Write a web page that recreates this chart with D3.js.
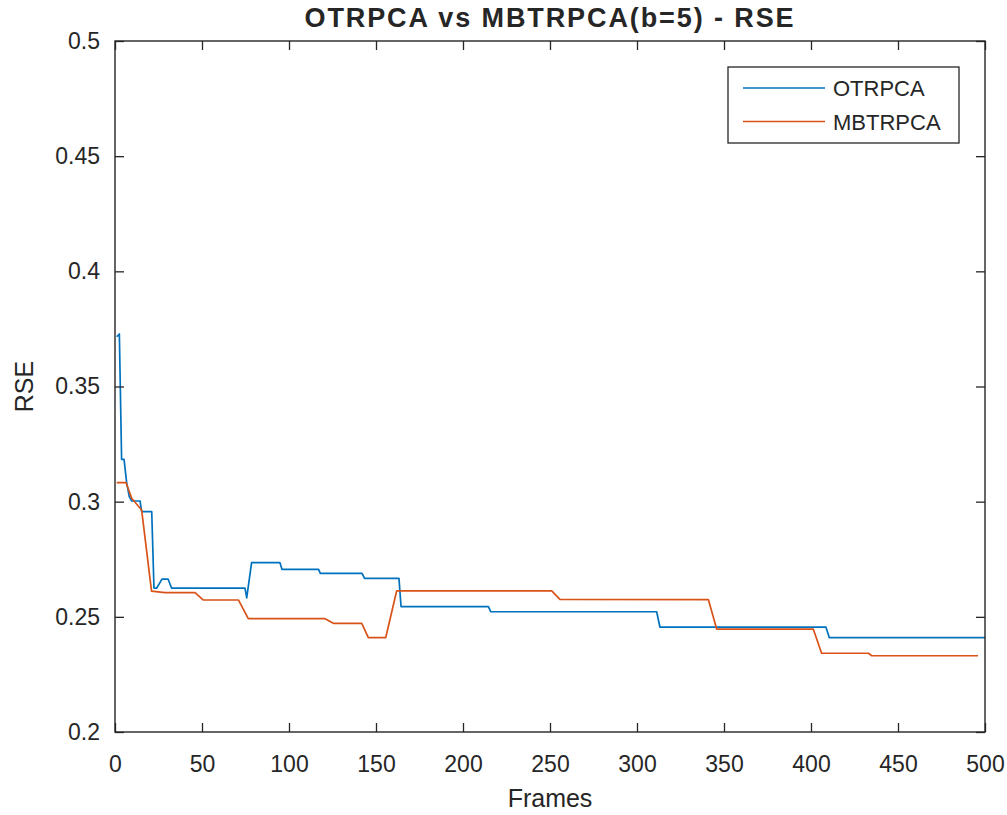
<!DOCTYPE html>
<html>
<head>
<meta charset="utf-8">
<script src="https://cdn.jsdelivr.net/npm/d3@7"></script>
<style>
  body { margin: 0; background: #fff; }
  text { font-family: "Liberation Sans", Arial, sans-serif; fill: #262626; }
</style>
</head>
<body>
<div id="chart"></div>
<script>
// OTRPCA curve, breakpoints (frame, RSE)
const otrpcaFrames = [1, 2.5, 3.8, 5.2, 6.7, 8.2, 9.6, 14.4, 15.3, 21.1, 22.4, 24, 27, 30.5, 32.5, 74.7, 75.7, 78.5, 94.8, 96, 117, 118, 142, 143.4, 163.2, 164.4, 214.6, 216, 311.3, 313.2, 408.6, 410.5, 500];
const otrpcaValues = [0.3716, 0.3728, 0.3184, 0.3184, 0.3083, 0.3022, 0.3003, 0.3003, 0.2957, 0.2957, 0.2625, 0.2625, 0.2664, 0.2664, 0.2625, 0.2625, 0.2582, 0.2735, 0.2735, 0.2706, 0.2706, 0.2689, 0.2689, 0.2667, 0.2667, 0.2544, 0.2544, 0.2522, 0.2522, 0.2455, 0.2455, 0.2410, 0.2410];

// MBTRPCA curve
const mbtrpcaFrames = [1, 6.3, 9.6, 15.3, 21, 28.7, 46, 50.8, 71, 76.6, 120.7, 125.5, 141.8, 145.6, 155.6, 161.9, 251, 255.7, 341, 345.8, 401.3, 406.1, 433, 434.9, 496];
const mbtrpcaValues = [0.3083, 0.3083, 0.3015, 0.2964, 0.2612, 0.2605, 0.2605, 0.2573, 0.2573, 0.2492, 0.2492, 0.2472, 0.2472, 0.2410, 0.2410, 0.2613, 0.2613, 0.2576, 0.2575, 0.2447, 0.2447, 0.2342, 0.2342, 0.2331, 0.2331];

const seriesNames = ["OTRPCA", "MBTRPCA"];
const xTicks = [0, 50, 100, 150, 200, 250, 300, 350, 400, 450, 500];
const yTicks = [0.2, 0.25, 0.3, 0.35, 0.4, 0.45, 0.5];

function init() {
  const W = 1007, H = 815;
  const margin = { top: 41, right: 22, bottom: 83, left: 115 };
  const width = W - margin.left - margin.right;
  const height = H - margin.top - margin.bottom;
  const colors = ["#0072BD", "#D95319"];
  const axisColor = "#262626";

  const svg = d3.select("#chart").append("svg")
    .attr("width", W)
    .attr("height", H);

  svg.append("rect").attr("width", W).attr("height", H).attr("fill", "#fff");

  const g = svg.append("g")
    .attr("transform", `translate(${margin.left},${margin.top})`);

  const x = d3.scaleLinear().domain([0, 500]).range([0, width]);
  const y = d3.scaleLinear().domain([0.2, 0.5]).range([height, 0]);

  const line = d3.line()
    .x(d => x(d[0]))
    .y(d => y(d[1]));

  const series = [
    d3.zip(otrpcaFrames, otrpcaValues),
    d3.zip(mbtrpcaFrames, mbtrpcaValues)
  ];

  g.selectAll(".line")
    .data(series)
    .enter()
    .append("path")
    .attr("class", "line")
    .attr("d", d => line(d))
    .style("fill", "none")
    .style("stroke", (d, i) => colors[i])
    .style("stroke-width", 1.7)
    .style("stroke-linejoin", "round");

  // axes, ticks inward; top and right mirrored without labels
  const fmtY = d => d3.format("")(+d.toFixed(2));
  const styleAxis = sel => {
    sel.selectAll(".domain").remove();
    sel.selectAll(".tick line").attr("stroke", axisColor).attr("stroke-width", 1.3);
    sel.selectAll("text")
      .style("font-family", '"Liberation Sans", Arial, sans-serif')
      .style("font-size", "23px")
      .attr("fill", "#333");
  };

  g.append("g")
    .attr("transform", `translate(0,${height})`)
    .call(d3.axisBottom(x).tickValues(xTicks).tickSize(-9).tickPadding(24))
    .call(styleAxis);

  g.append("g")
    .call(d3.axisTop(x).tickValues(xTicks).tickSize(-9).tickFormat(""))
    .call(styleAxis);

  g.append("g")
    .call(d3.axisLeft(y).tickValues(yTicks).tickSize(-9).tickPadding(15).tickFormat(fmtY))
    .call(styleAxis);

  g.append("g")
    .attr("transform", `translate(${width},0)`)
    .call(d3.axisRight(y).tickValues(yTicks).tickSize(-9).tickFormat(""))
    .call(styleAxis);

  g.append("rect")
    .attr("width", width)
    .attr("height", height)
    .attr("fill", "none")
    .attr("stroke", axisColor)
    .attr("stroke-width", 1.4);

  // title and axis labels
  svg.append("text")
    .attr("x", margin.left + width / 2)
    .attr("y", 27)
    .attr("text-anchor", "middle")
    .style("font-size", "27px")
    .style("font-weight", "bold")
    .style("letter-spacing", "1.9px")
    .attr("fill", "#111")
    .text("OTRPCA vs MBTRPCA(b=5) - RSE");

  svg.append("text")
    .attr("x", margin.left + width / 2)
    .attr("y", 807)
    .attr("text-anchor", "middle")
    .style("font-size", "25px")
    .attr("fill", "#333")
    .text("Frames");

  svg.append("text")
    .attr("transform", `translate(33,${margin.top + height / 2}) rotate(-90)`)
    .attr("text-anchor", "middle")
    .style("font-size", "25px")
    .attr("fill", "#333")
    .text("RSE");

  // legend
  const legend = svg.append("g").attr("transform", "translate(728,67)");
  legend.append("rect")
    .attr("width", 231)
    .attr("height", 76)
    .attr("fill", "#fff")
    .attr("stroke", axisColor)
    .attr("stroke-width", 1.3);

  seriesNames.forEach((name, i) => {
    const ly = 21 + i * 33.5;
    legend.append("line")
      .attr("x1", 15).attr("x2", 97)
      .attr("y1", ly).attr("y2", ly)
      .style("stroke", colors[i])
      .style("stroke-width", 1.7);
    legend.append("text")
      .attr("x", 105)
      .attr("y", ly + 8)
      .style("font-size", "22px")
      .attr("fill", "#222")
      .text(name);
  });
}

window.onload = init;
</script>
</body>
</html>
